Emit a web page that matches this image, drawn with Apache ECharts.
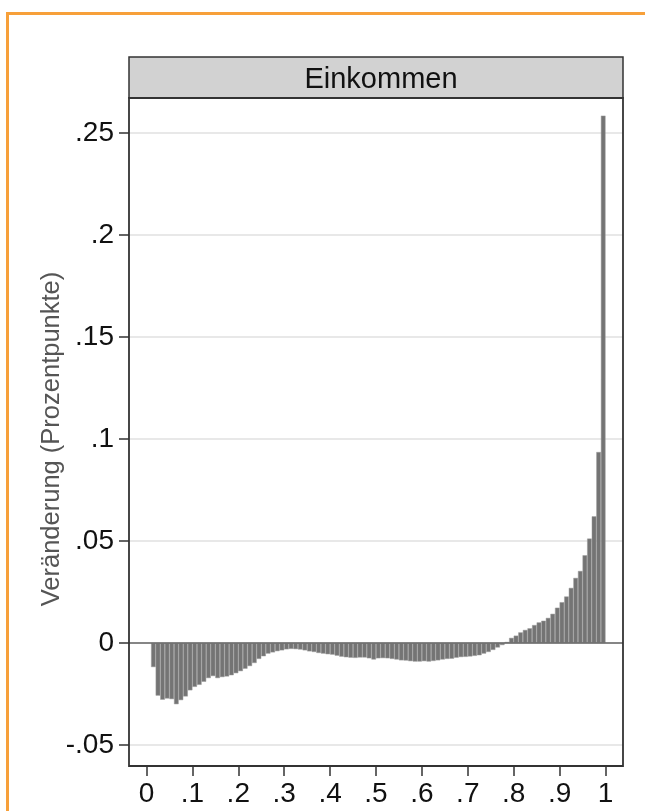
<!DOCTYPE html>
<html>
<head>
<meta charset="utf-8">
<script src="https://cdn.jsdelivr.net/npm/echarts@6/dist/echarts.min.js"></script>
<style>
  html, body { margin: 0; padding: 0; background: #fff; }
  #chart { width: 645px; height: 811px; }
</style>
</head>
<body>
<div id="chart"></div>
<script>
// Percentile bins (bin k covers k/100 .. (k+1)/100)
const percentiles = [1,2,3,4,5,6,7,8,9,10,11,12,13,14,15,16,17,18,19,20,
  21,22,23,24,25,26,27,28,29,30,31,32,33,34,35,36,37,38,39,40,
  41,42,43,44,45,46,47,48,49,50,51,52,53,54,55,56,57,58,59,60,
  61,62,63,64,65,66,67,68,69,70,71,72,73,74,75,76,77,78,79,80,
  81,82,83,84,85,86,87,88,89,90,91,92,93,94,95,96,97,98,99];

// Change in percentage points
const changes = [
  -0.0118, -0.0258, -0.0278, -0.0272, -0.0275, -0.0300, -0.0280, -0.0262, -0.0232, -0.0215,
  -0.0205, -0.0190, -0.0172, -0.0162, -0.0172, -0.0167, -0.0164, -0.0158, -0.0148, -0.0138,
  -0.0126, -0.0113, -0.0098, -0.0078, -0.0065, -0.0052, -0.0046, -0.0040, -0.0036, -0.0031,
  -0.0029, -0.0030, -0.0032, -0.0036, -0.0041, -0.0044, -0.0049, -0.0052, -0.0055, -0.0057,
  -0.0062, -0.0067, -0.0070, -0.0072, -0.0073, -0.0071, -0.0071, -0.0075, -0.0081, -0.0075,
  -0.0074, -0.0075, -0.0078, -0.0081, -0.0085, -0.0086, -0.0089, -0.0091, -0.0091, -0.0089,
  -0.0091, -0.0088, -0.0085, -0.0081, -0.0078, -0.0077, -0.0072, -0.0069, -0.0068, -0.0066,
  -0.0063, -0.0060, -0.0052, -0.0044, -0.0034, -0.0022, -0.0010, 0.0005, 0.0025, 0.0036,
  0.0052, 0.0064, 0.0072, 0.0088, 0.0101, 0.0109, 0.0123, 0.0143, 0.0173, 0.0200,
  0.0228, 0.0270, 0.0319, 0.0353, 0.0430, 0.0512, 0.0621, 0.0936, 0.2585
];

const yTicks = [-0.05, 0, 0.05, 0.1, 0.15, 0.2, 0.25];
const xTicks = [0, 0.1, 0.2, 0.3, 0.4, 0.5, 0.6, 0.7, 0.8, 0.9, 1];
const panelTitle = 'Einkommen';
const yTitle = 'Veränderung (Prozentpunkte)';

function stataFmt(v) {
  const r = Math.round(v * 1000) / 1000;
  if (r === 0) return '0';
  return String(r).replace(/^(-?)0\./, '$1.');
}

const FONT = '"Liberation Sans", Arial, Helvetica, sans-serif';
const chart = echarts.init(document.getElementById('chart'), null, { renderer: 'canvas' });

const barData = percentiles.map((p, i) => [(p + 0.5) / 100, changes[i]]);

chart.setOption({
  backgroundColor: '#ffffff',
  animation: false,
  title: {
    text: panelTitle,
    left: 376, top: 60, textAlign: 'center',
    textStyle: { fontFamily: FONT, fontSize: 29, fontWeight: 'normal', color: '#111' }
  },
  grid: [
    { left: 129, right: 22, top: 133, bottom: 66 },
    { left: 146.5, right: 39.5, top: 98, bottom: 45 }
  ],
  xAxis: [
    { gridIndex: 0, type: 'value', min: -0.0381, max: 1.0381, show: false,
      axisLine: { onZero: false } },
    {
      gridIndex: 1, type: 'value', min: xTicks[0], max: xTicks[xTicks.length - 1], interval: 0.1,
      axisLine: { show: false, onZero: false },
      axisTick: { show: true, length: 10, lineStyle: { color: '#333', width: 1.5 } },
      splitLine: { show: false },
      axisLabel: { margin: 14, fontFamily: FONT, fontSize: 28, color: '#111', formatter: stataFmt }
    }
  ],
  yAxis: [
    {
      gridIndex: 0, type: 'value', min: yTicks[0], max: yTicks[yTicks.length - 1], interval: 0.05,
      name: yTitle, nameLocation: 'middle', nameRotate: 90, nameGap: 64, nameMoveOverlap: false,
      nameTextStyle: { fontFamily: FONT, fontSize: 25.5, color: '#555' },
      axisLine: { show: false, onZero: false },
      axisTick: { show: true, length: 10, lineStyle: { color: '#333', width: 1.5 } },
      splitLine: { show: true, lineStyle: { color: '#e0e0e0', width: 1.5 } },
      axisLabel: { margin: 15, fontFamily: FONT, fontSize: 28, color: '#111', formatter: stataFmt }
    },
    { gridIndex: 1, type: 'value', min: 0, max: 1, show: false, axisLine: { onZero: false } }
  ],
  graphic: [
    { type: 'rect', shape: { x: 7.5, y: 13.5, width: 700, height: 900 },
      style: { fill: 'none', stroke: '#f7a03a', lineWidth: 3 }, z: 100 },
    { type: 'rect', shape: { x: 129, y: 57, width: 494, height: 41 },
      style: { fill: '#d2d2d2', stroke: '#333', lineWidth: 1.5 }, z: -1 },
    { type: 'rect', shape: { x: 129, y: 98, width: 494, height: 668 },
      style: { fill: 'none', stroke: '#333', lineWidth: 1.8 }, z: 100 }
  ],
  series: [
    {
      type: 'bar', xAxisIndex: 0, yAxisIndex: 0,
      data: barData, barWidth: 4.6, clip: false,
      itemStyle: { color: '#747474', borderColor: '#9a9a9a', borderWidth: 0.5 },
      markLine: {
        silent: true, symbol: 'none', label: { show: false },
        lineStyle: { color: '#666', width: 1.6, type: 'solid' },
        data: [{ yAxis: 0 }]
      }
    }
  ]
});
</script>
</body>
</html>
